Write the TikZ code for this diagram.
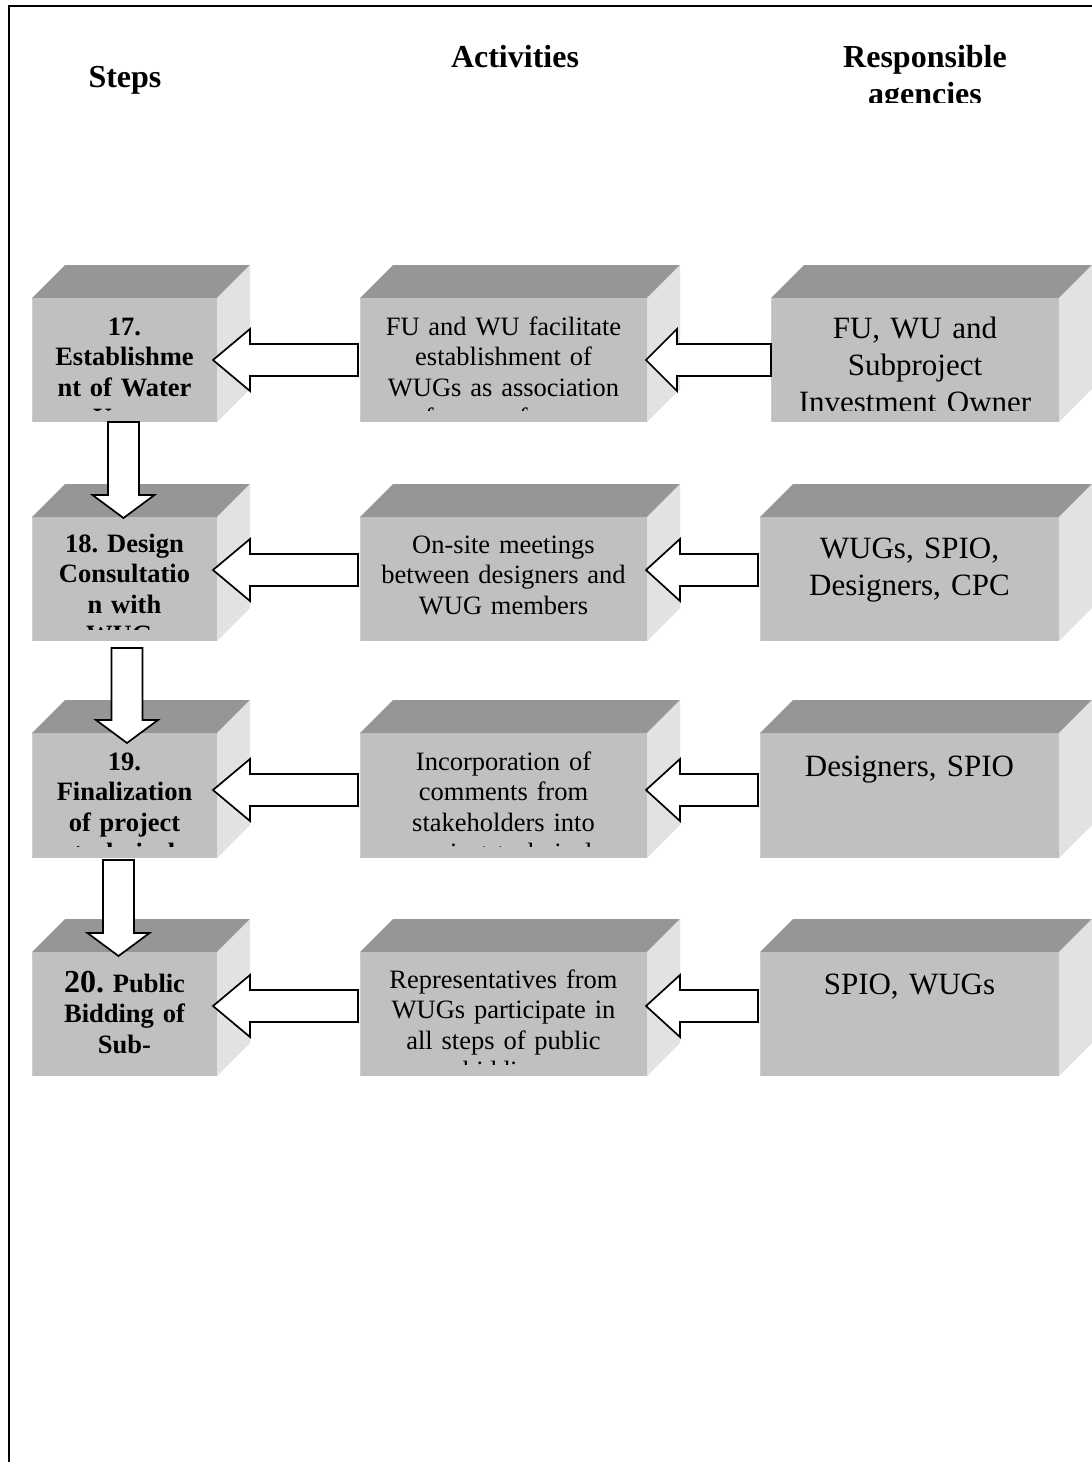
\documentclass[tikz,border=0pt]{standalone}
\usepackage{fontspec}
\setmainfont{Liberation Serif}
\usetikzlibrary{calc}

\definecolor{cubetop}{gray}{0.59}
\definecolor{cubefront}{gray}{0.753}
\definecolor{cubeside}{gray}{0.885}
\definecolor{cubeedge}{gray}{0.80}

\tikzset{
  frameline/.style={draw=black, line width=1.8pt},
  topface/.style={fill=cubetop},
  sideface/.style={fill=cubeside},
  frontface/.style={fill=cubefront, draw=none, inner sep=0pt, outer sep=0pt},
  blockarrow/.style={draw=black, fill=white, line width=1.7pt, line join=miter},
  headtext/.style={font=\fontsize{32}{37}\selectfont\bfseries\frenchspacing, align=center, anchor=base, inner sep=0pt},
  steptext/.style={font=\fontsize{26.5}{30.5}\selectfont\bfseries\frenchspacing, align=center, anchor=base, inner sep=0pt, text width=185pt},
  acttext/.style={font=\fontsize{26.5}{30.5}\selectfont\frenchspacing, align=center, anchor=base, inner sep=0pt, text width=287pt},
  agtext/.style={font=\fontsize{31}{37}\selectfont\frenchspacing, align=center, anchor=base, inner sep=0pt, text width=299pt},
}

% a shaded box: top face, right face and a named front face
% #1 name, #2 left, #3 top, #4 right, #5 bottom of the front face
\newcommand\cubeblock[5]{%
  \fill[topface] (#2,#3) -- (#2+33,#3-33) -- (#4+33,#3-33) -- (#4,#3) -- cycle;
  \fill[sideface] (#4,#3) -- (#4+33,#3-33) -- (#4+33,#5-33) -- (#4,#5) -- cycle;
  \node[frontface, minimum width={#4-#2}, minimum height={#5-#3}, anchor=north west] (#1) at (#2,#3) {};
  \draw[cubeedge, line width=1pt] (#2+0.5,#5-0.5) -- (#2+0.5,#3+0.5);
}

% text of a box, cut off a little above the bottom of its front face
% #1 name, #2 box, #3 style, #4 first baseline below the top, #5 text
\newcommand\boxtext[5]{%
  \begin{scope}
    \clip (#2.north west) rectangle ($(#2.south east)+(0,-12)$);
    \node[#3] (#1) at ($(#2.north)+(0,#4)$) {#5};
  \end{scope}}

% left-pointing block arrow from box #2 to box #1
% #3 tip shift up/down, #4 tip inset, #5 gap at the tail, #6 head length, #7 head half width
\newcommand\leftblock[7]{%
  \coordinate (tip) at ($(#1.east)+(-#4,#3)$);
  \coordinate (tail) at ($(tip-|#2.west)+(-#5,0)$);
  \draw[blockarrow] (tip) -- ++(#6,-#7) -- ++(0,#7-16) -- ($(tail)+(0,-16)$)
    -- ($(tail)+(0,16)$) -- ($(tip)+(#6,16)$) -- ++(0,#7-16) -- cycle;
}

% downward block arrow from box #1 to box #2
% #3 x shift, #4 gap below the upper box, #5 tip depth into the lower box
\newcommand\downblock[5]{%
  \coordinate (vtop) at ($(#1.south)+(#3,#4)$);
  \coordinate (vtip) at ($(vtop|-#2.north)+(0,#5)$);
  \draw[blockarrow] ($(vtop)+(-15.5,0)$) -- ($(vtip)+(-15.5,-23)$) -- ++(-15.5,0)
    -- (vtip) -- ++(31,-23) -- ++(-15.5,0) -- ($(vtop)+(15.5,0)$) -- cycle;
}

\begin{document}
\begin{tikzpicture}[x=1pt,y=-1pt]
\useasboundingbox (0,0) rectangle (1092,1462);
\fill[white] (0,0) rectangle (1092,1462);
\draw[frameline] (9,1462) -- (9,6) -- (1092,6);

% column headings
\node[headtext] (hsteps) at (125,87) {Steps};
\node[headtext] (hact) at (515,67) {Activities};
\begin{scope}
  \clip (780,20) rectangle (1070,102);
  \node[headtext, text width=260pt] (hresp) at (925,67) {Responsible\\agencies};
\end{scope}

% boxes
\cubeblock{step1}{32}{298}{217}{422}
\cubeblock{act1}{360}{298}{647}{422}
\cubeblock{ag1}{771}{298}{1059}{422}
\cubeblock{step2}{32}{517}{217}{641}
\cubeblock{act2}{360}{517}{647}{641}
\cubeblock{ag2}{760}{517}{1059}{641}
\cubeblock{step3}{32}{733}{217}{858}
\cubeblock{act3}{360}{733}{647}{858}
\cubeblock{ag3}{760}{733}{1059}{858}
\cubeblock{step4}{32}{952}{217}{1076}
\cubeblock{act4}{360}{952}{647}{1076}
\cubeblock{ag4}{760}{952}{1059}{1076}

% box texts
\boxtext{tstep1}{step1}{steptext}{37}{17.\\Establishme\\nt of Water\\Users}
\boxtext{tact1}{act1}{acttext}{37}{FU and WU facilitate\\establishment of\\WUGs as association\\of users of water}
\boxtext{tag1}{ag1}{agtext}{40}{FU, WU and\\Subproject\\Investment Owner}

\boxtext{tstep2}{step2}{steptext}{35}{18. Design\\Consultatio\\n with\\WUGs}
\boxtext{tact2}{act2}{acttext}{36}{On-site meetings\\between designers and\\WUG members}
\boxtext{tag2}{ag2}{agtext}{41}{WUGs, SPIO,\\Designers, CPC}

\boxtext{tstep3}{step3}{steptext}{37}{19.\\Finalization\\of project\\technical}
\boxtext{tact3}{act3}{acttext}{37}{Incorporation of\\comments from\\stakeholders into\\project technical}
\boxtext{tag3}{ag3}{agtext}{43}{Designers, SPIO}

\boxtext{tstep4}{step4}{steptext}{40}{{\fontsize{32}{30.5}\selectfont 20.} Public\\Bidding of\\Sub-}
\boxtext{tact4}{act4}{acttext}{36}{Representatives from\\WUGs participate in\\all steps of public\\bidding}
\boxtext{tag4}{ag4}{agtext}{42}{SPIO, WUGs}

% arrows between the columns
\leftblock{step1}{act1}{0}{4}{2}{37}{31}
\leftblock{act1}{ag1}{0}{1}{0}{31}{31}
\leftblock{step2}{act2}{-9}{4}{2}{37}{31}
\leftblock{act2}{ag2}{-9}{1}{2}{34}{31}
\leftblock{step3}{act3}{-5.5}{4}{2}{37}{31}
\leftblock{act3}{ag3}{-5.5}{1}{2}{34}{31}
\leftblock{step4}{act4}{-8}{4}{2}{37}{31}
\leftblock{act4}{ag4}{-8}{1}{2}{34}{31}

% arrows down the steps column
\downblock{step1}{step2}{-1}{0}{1}
\downblock{step2}{step3}{2.5}{7}{10}
\downblock{step3}{step4}{-6}{2}{4}
\end{tikzpicture}
\end{document}
